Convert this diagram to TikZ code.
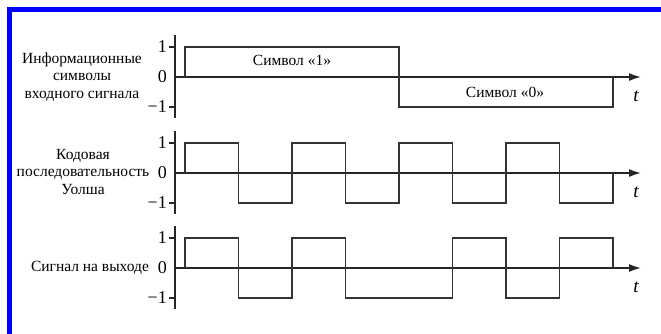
\documentclass[tikz,border=0pt]{standalone}
\usepackage{fontspec}
\setmainfont{Liberation Serif}
\newfontfamily\timesfont{Liberation Serif}
\usepackage{tikz}
\usetikzlibrary{positioning}
\usetikzlibrary{calc,arrows.meta}

\tikzset{
	taxis/.style={line width=1.6pt, draw=black!85, -{Latex[length=12pt,width=8pt]}},
	vaxis/.style={line width=1.8pt, draw=black!85},
	tickmark/.style={line width=1.6pt, draw=black!85},
	wave/.style={line width=1.7pt, draw=black!80, line join=miter},
	ticklbl/.style={font=\timesfont\fontsize{18}{18}\selectfont, anchor=east, inner sep=0pt},
	sidelbl/.style={font=\timesfont\fontsize{15.5}{17.5}\selectfont, align=center, inner sep=0pt},
	symlbl/.style={font=\timesfont\fontsize{15.5}{15.5}\selectfont, inner sep=0pt},
	tlbl/.style={font=\timesfont\fontsize{19}{19}\selectfont\itshape, inner sep=0pt}
}

\begin{document}
\begin{tikzpicture}[x=1pt,y=-1pt]
	
	\useasboundingbox (0,0) rectangle (661,334);
	
	% blue frame (only top and left edges are in view)
	\draw[blue, line width=4.5pt] (9.5,334) -- (9.5,9.5) -- (661,9.5);
	
	% origins of the three time axes
	\coordinate (O1) at (175,77);
	\coordinate (O2) at (175,173);
	\coordinate (O3) at (175,268);
	
	%%%%%%%%%%%%%%%%%%%%%%%%%%%%%%%%%%%%%%%%%%%%%%%%%%%%%%%%%%%%%%
	% axes, ticks and tick labels
	\foreach \o in {O1,O2,O3}{
		\draw[vaxis] ($(\o)+(0,-42)$) -- ($(\o)+(0,41)$);
		\draw[tickmark] ($(\o)+(-6,-30)$) -- ($(\o)+(0,-30)$);
		\draw[tickmark] ($(\o)+(-6,30)$) -- ($(\o)+(0,30)$);
		\node[ticklbl] (\o-p) at ($(\o)+(-8,-30)$) {1};
		\node[ticklbl] (\o-z) at ($(\o)+(-8,0)$) {0};
		\node[ticklbl] (\o-m) at ($(\o)+(-8,30)$) {−1};
		\draw[taxis] (\o) -- ($(\o)+(466,0)$);
		\node[tlbl] (\o-t) at ($(\o)+(461,19)$) {t};
	}
	
	%%%%%%%%%%%%%%%%%%%%%%%%%%%%%%%%%%%%%%%%%%%%%%%%%%%%%%%%%%%%%%
	% information symbols: one bit, then zero bit
	\draw[wave] ($(O1)+(10,0)$) -- ++(0,-30) -- ++(214,0) -- ++(0,60)
		-- ++(214,0) -- ++(0,-30);
	\node[symlbl] (S1) at ($(O1)+(117,-17)$) {Символ «1»};
	\node[symlbl] (S0) at ($(O1)+(330,15)$) {Символ «0»};
	
	% Walsh code sequence
	\draw[wave] ($(O2)+(10,0)$) -- ++(0,-30)
		-- ++(53.5,0) -- ++(0,60) -- ++(53.5,0) -- ++(0,-60)
		-- ++(53.5,0) -- ++(0,60) -- ++(53.5,0) -- ++(0,-60)
		-- ++(53.5,0) -- ++(0,60) -- ++(53.5,0) -- ++(0,-60)
		-- ++(53.5,0) -- ++(0,60) -- ++(53.5,0) -- ++(0,-30);
	
	% output signal
	\draw[wave] ($(O3)+(10,0)$) -- ++(0,-30)
		-- ++(53.5,0) -- ++(0,60) -- ++(53.5,0) -- ++(0,-60)
		-- ++(53.5,0) -- ++(0,60) -- ++(107,0) -- ++(0,-60)
		-- ++(53.5,0) -- ++(0,60) -- ++(53.5,0) -- ++(0,-60)
		-- ++(53.5,0) -- ++(0,30);
	
	%%%%%%%%%%%%%%%%%%%%%%%%%%%%%%%%%%%%%%%%%%%%%%%%%%%%%%%%%%%%%%
	% row labels
	\node[sidelbl] (R1) at (82,77) {Информационные\\символы\\входного сигнала};
	\node[sidelbl] (R2) at (83,172) {Кодовая\\последовательность\\Уолша};
	\node[sidelbl] (R3) at (90,268) {Сигнал на выходе};
	
\end{tikzpicture}
\end{document}
